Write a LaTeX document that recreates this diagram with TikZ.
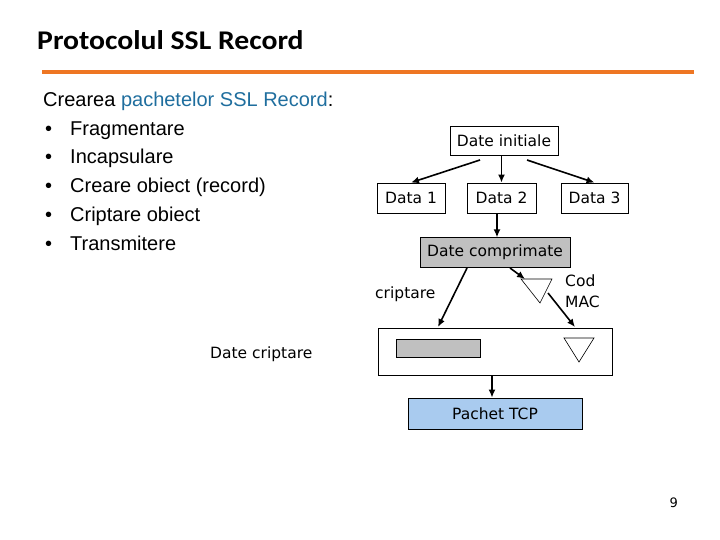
\documentclass[tikz,border=0pt]{standalone}
\usepackage{fontspec}
\setmainfont{Liberation Sans}
\newfontfamily\verd{DejaVu Sans}
\newfontfamily\titlefont[FakeStretch=1.1]{Carlito}
\usetikzlibrary{arrows.meta}
\definecolor{orangeline}{HTML}{EE7623}
\definecolor{bluetxt}{HTML}{1F6E9E}
\definecolor{grayfill}{HTML}{C0C0C0}
\definecolor{tcpblue}{HTML}{A9CBEF}
\tikzset{
  box/.style={draw=black, line width=0.8pt, inner sep=0pt, font=\verd\fontsize{15.5}{18}\selectfont},
  arr/.style={line width=1.6pt, -{Latex[length=8pt,width=7pt]}},
  lbl/.style={font=\verd\fontsize{15.5}{21}\selectfont, inner sep=0pt},
  bul/.style={anchor=base west, inner sep=0pt, font=\fontsize{20}{24}\selectfont}
}
\begin{document}
\begin{tikzpicture}[x=1pt,y=-1pt]
\useasboundingbox (0,0) rectangle (720,540);
% title
\node[anchor=base west, inner sep=0pt, font=\titlefont\bfseries\fontsize{27}{32}\selectfont] (title) at (37,50) {Protocolul SSL Record};
\draw[orangeline, line width=3.5pt] (42,72) coordinate (l1) -- (694,72) coordinate (l2);
% text
\node[bul] (t0) at (43,107) {Crearea \textcolor{bluetxt}{pachetelor SSL Record}:};
\foreach \y/\t/\n in {136/Fragmentare/a,164/Incapsulare/b,193/Creare obiect (record)/c,222/Criptare obiect/d,251/Transmitere/e}{
  \node[bul] (b\n) at (45,\y) {\textbullet};
  \node[bul] (t\n) at (70,\y) {\t};
}
% boxes
\node[box, minimum width=108, minimum height=29] (di) at (504,140.5) {Date initiale};
\node[box, minimum width=68, minimum height=30] (d1) at (411,198) {Data 1};
\node[box, minimum width=69, minimum height=30] (d2) at (501.5,198) {Data 2};
\node[box, minimum width=67, minimum height=30] (d3) at (594.5,198) {Data 3};
\node[box, fill=grayfill, minimum width=150, minimum height=30] (dc) at (495,252) {Date comprimate};
\node[box, minimum width=234, minimum height=47] (big) at (495,351.5) {};
\node[draw=black, line width=0.6pt, fill=grayfill, minimum width=84, minimum height=18, inner sep=0pt] (gr) at (438,348) {};
\node[box, fill=tcpblue, minimum width=174, minimum height=31] (tcp) at (495,413.5) {Pachet TCP};
% triangles
\coordinate (tr1a) at (521,279); \coordinate (tr1b) at (552,279); \coordinate (tr1c) at (540,303);
\draw[line width=0.6pt] (tr1a) -- (tr1b) -- (tr1c) -- cycle;
\coordinate (tr2a) at (564,338); \coordinate (tr2b) at (594,338); \coordinate (tr2c) at (579,362);
\draw[line width=0.6pt] (tr2a) -- (tr2b) -- (tr2c) -- cycle;
% labels
\node[lbl, anchor=west] (cr) at (375,294) {criptare};
\node[lbl, anchor=west, align=left] (mac) at (565,291) {Cod\\MAC};
\node[lbl, anchor=west] (dcr) at (210,354) {Date criptare};
\node[anchor=east, inner sep=0pt, font=\verd\fontsize{13}{15}\selectfont] (pg) at (678,503) {9};
% arrows
\coordinate (a1s) at (480,160); \coordinate (a3s) at (527,160);
\draw[arr] (a1s) -- (d1.north);
\draw[arr] (di.south -| d2.north) -- (d2.north);
\draw[arr] (a3s) -- (d3.north);
\draw[arr] (d2.south -| dc.north) ++(2,0) -- ++(0,24);
\coordinate (c1s) at (467,268); \coordinate (c1e) at (438,327);
\draw[arr] (c1s) -- (c1e);
\coordinate (c2s) at (510,268);
\draw[arr] (c2s) -- (525,279);
\coordinate (c3s) at (548,293); \coordinate (c3e) at (575,327);
\draw[arr] (c3s) -- (c3e);
\draw[arr] (big.south -| 492,0) -- (tcp.north -| 492,0);
\end{tikzpicture}
\end{document}
